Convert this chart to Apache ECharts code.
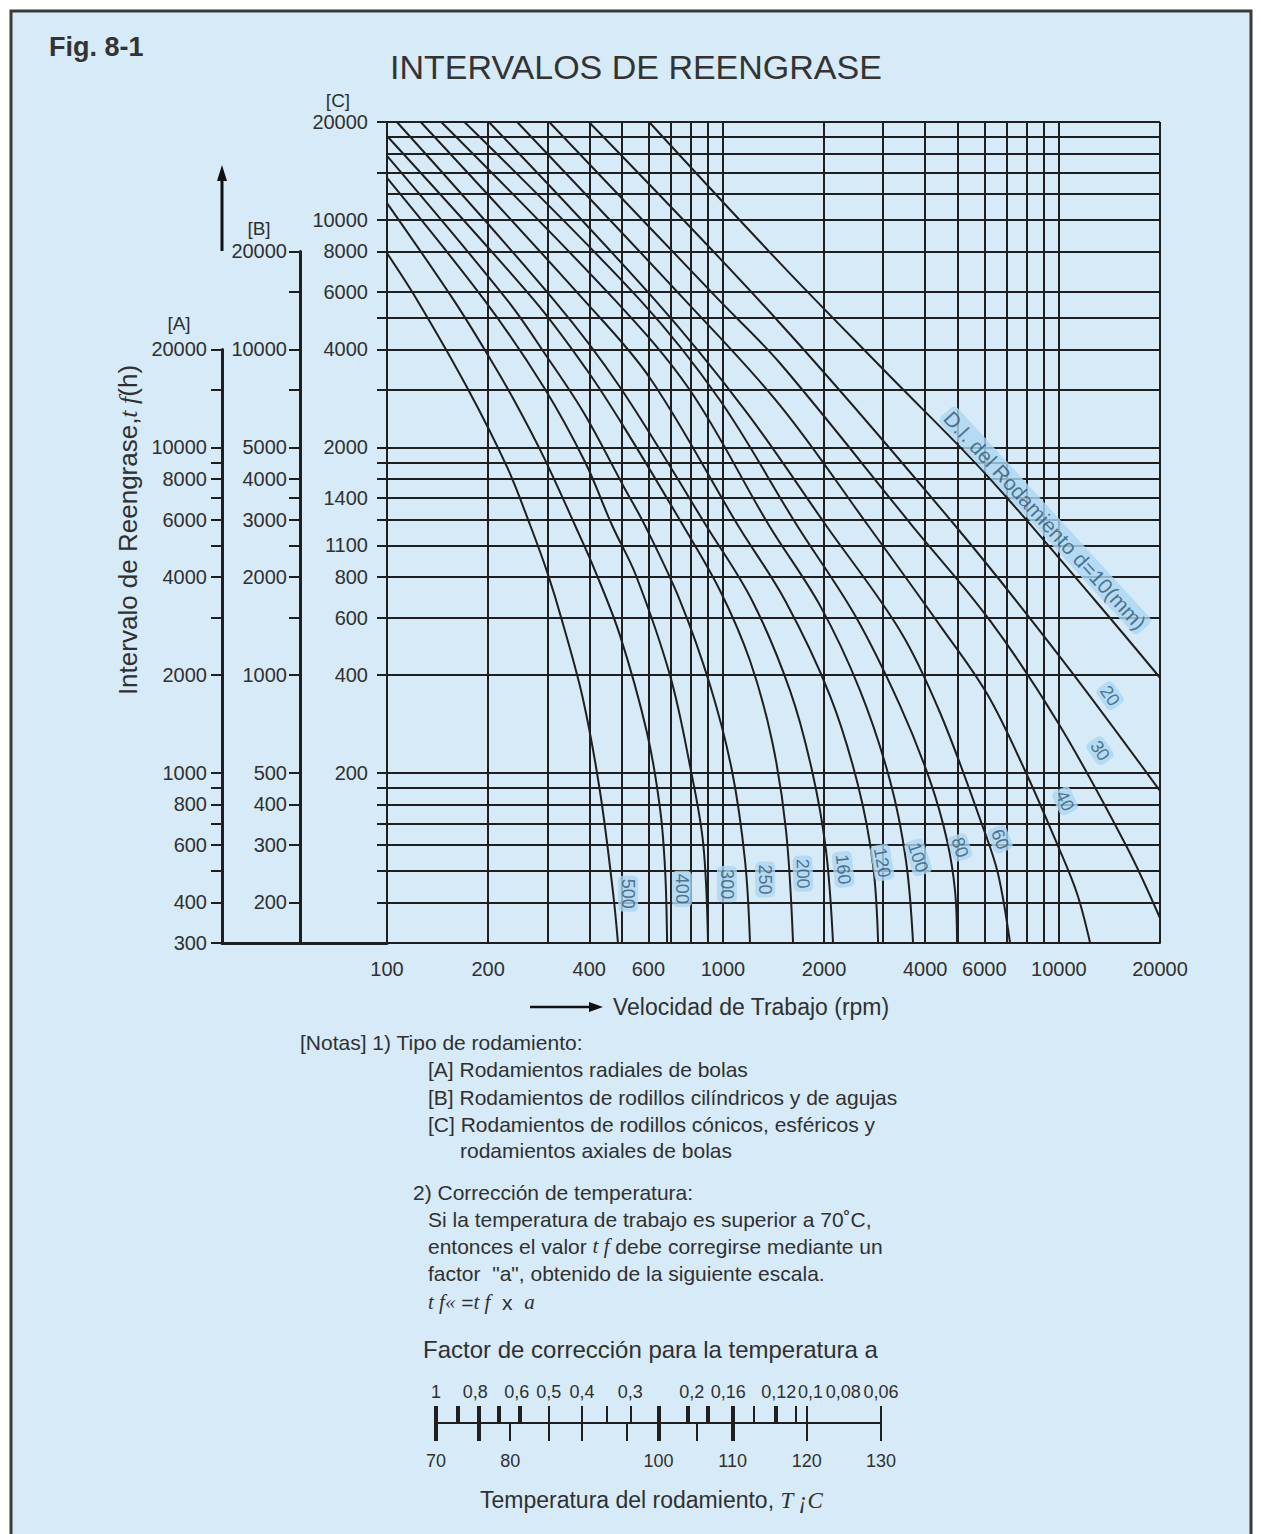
<!DOCTYPE html>
<html><head><meta charset="utf-8">
<script src="https://cdn.jsdelivr.net/npm/echarts@6/dist/echarts.min.js"></script>
<style>html,body{margin:0;padding:0;background:#fff}#c{width:1261px;height:1534px}</style>
</head><body><div id="c"></div>
<script>
// ---------- data ----------
const speedLabelVals = [100,200,400,600,1000,2000,4000,6000,10000,20000];
const speedGridVals = [100,200,300,400,500,600,700,800,900,1000,2000,3000,4000,5000,6000,7000,8000,9000,10000,20000];
const cGridVals = [20000,18000,16000,14000,12000,10000,8000,6000,5000,4000,3000,2000,1800,1600,1400,1200,1000,800,600,400,200,180,160,140,120,100,80];
const cTickVals = [20000,14000,10000,8000,6000,5000,4000,3000,2000,1800,1600,1400,1200,1000,800,600,400,200,180,160,140,120,100,80];
const cLabelVals = [20000,10000,8000,6000,4000,2000,1400,1000,800,600,400,200];
const cLabelText = ['20000','10000','8000','6000','4000','2000','1400','1100','800','600','400','200'];
const aTickVals = [20000,15000,10000,9000,8000,7000,6000,5000,4000,3000,2000,1000,900,800,700,600,500,400,300];
const aLabelVals = [20000,10000,8000,6000,4000,2000,1000,800,600,400,300];
const bTickVals = [20000,15000,10000,7500,5000,4000,3500,3000,2500,2000,1500,1000,500,400,300,200];
const bLabelVals = [20000,10000,5000,4000,3000,2000,1000,500,400,300,200];

const boreDiameters = [10,20,30,40,60,80,100,120,160,200,250,300,400,500];
const curveD10  = [[603,20000],[1479,7370],[3080,3380],[6110,1640],[12820,677],[20000,392]];
const curveD20  = [[399,20000],[1479,4816],[4909,1151],[10290,442],[20000,176]];
const curveD30  = [[304,20000],[974,5670],[1479,3628],[3656,1151],[6239,587],[9945,285],[15960,118],[20000,71.6]];
const curveD40  = [[244,20000],[771,5670],[1479,2694],[2704,1151],[4430,567],[6112,350],[7932,203],[9945,119],[11330,85],[12390,60]];
const curveD60  = [[201,20000],[628,5670],[1164,2601],[2028,1151],[3367,547],[4430,306],[5946,136],[6592,97.8],[7157,60]];
const curveD80  = [[170,20000],[567,5670],[980,2792],[1662,1151],[2474,609],[3367,322],[4137,189],[4647,124],[4909,86.7],[4977,60]];
const curveD100 = [[145,20000],[477,5670],[798,2996],[1372,1151],[1946,653],[2560,358],[3144,189],[3509,107],[3681,60]];
const curveD120 = [[126,20000],[386,5670],[607,3263],[1109,1151],[1531,677],[2084,345],[2525,183],[2799,104],[2897,60]];
const curveD160 = [[107,20000],[314,5670],[494,3062],[891,1151],[1221,677],[1584,358],[1842,203],[2028,115],[2127,60]];
const curveD200 = [[100,18120],[274,5670],[394,3452],[508,2305],[761,1151],[980,727],[1204,442],[1400,251],[1541,133],[1617,60]];
const curveD250 = [[100,15730],[228,5670],[300,3786],[386,2546],[508,1507],[586,1151],[745,677],[916,371],[1064,203],[1164,107],[1204,60]];
const curveD300 = [[100,13460],[195,5670],[293,3062],[389,1800],[468,1151],[551,808],[696,398],[798,210],[873,122],[903,60]];
const curveD400 = [[100,11270],[158,5670],[204,3707],[239,2792],[293,1864],[363,1151],[416,837],[494,528],[594,266],[650,155],[673,99.9],[682,60]];
const curveD500 = [[100,7907],[123,5670],[173,3062],[228,1736],[267,1151],[300,826],[332,587],[383,338],[431,174],[471,85.5],[487,60]];

const curveLabelText = ['D.I. del Rodamiento d=10(mm)','20','30','40','60','80','100','120','160','200','250','300','400','500'];
const curveLabelAt = [[9100,1193],[14200,345],[13260,234],[10430,164],[6680,125],[5080,118],[3810,110],[2980,106],[2280,101],[1730,98],[1335,94],[1028,91],[755,88],[522,85]];

const tempLabelVals = [70,80,100,110,120,130];
const tempThinBottom = [80,85.2,89.7,95.7,105.2,120,130];
const tempThickBottom = [70,75.7,100,110];
const tempThinTop = [85.2,89.7,93,96.2,112.8,118.5,120,130];
const tempThickTop = [70,72.9,75.7,78.4,81.3,100,104,106.7,110,115.8];
const factorText = ['1','0,8','0,6','0,5','0,4','0,3','0,2','0,16','0,12','0,1','0,08','0,06'];
const factorAt = [70,75.3,80.9,85.2,89.7,96.2,104.5,109.4,116.2,120.5,124.9,130];

// ---------- styling / layout ----------
const FONT = '"Liberation Sans", Arial, Helvetica, sans-serif';
const SERIF = '"Liberation Serif", "Times New Roman", serif';
const INK = '#1f1f1f';
const TXT = '#303030';
const MAIN = {left:387, top:122, width:773, height:821};
const pxPerDecade = MAIN.height / Math.log10(20000/60);
const bottomY = MAIN.top + MAIN.height;
const hA = pxPerDecade * Math.log10(20000/300);
const hB = pxPerDecade * Math.log10(20000/150);
const labelAngle = [-47.5,-55,-55,-65,-68,-72,-72,-80,-84,-88,-90,-90,-90,-90];

function pick(vals, texts, v){
  const i = vals.findIndex(c => Math.abs(c - v) / c < 1e-6);
  return i >= 0 ? texts[i] : '';
}
const axisTxt = {fontSize:20, color:TXT, fontFamily:FONT};

const chart = echarts.init(document.getElementById('c'), null, {renderer:'svg', width:1261, height:1534});

const curves = [curveD10,curveD20,curveD30,curveD40,curveD60,curveD80,curveD100,curveD120,curveD160,curveD200,curveD250,curveD300,curveD400,curveD500];

const series = [];
series.push({
  type:'line', xAxisIndex:0, yAxisIndex:0, data:[], silent:true, z:2,
  markLine:{
    silent:true, symbol:['none','none'], label:{show:false}, animation:false,
    lineStyle:{color:INK, width:2, type:'solid'},
    emphasis:{disabled:true},
    data:[...speedGridVals.map(v=>({xAxis:v})), ...cGridVals.map(v=>({yAxis:v}))]
  }
});
curves.forEach((pts,i)=>{
  series.push({
    type:'line', name:'d='+boreDiameters[i], xAxisIndex:0, yAxisIndex:0, data:pts,
    symbol:'none', showSymbol:false, smooth:0.35, silent:true, z:3,
    lineStyle:{color:INK, width:2}
  });
});
series.push({
  type:'scatter', xAxisIndex:0, yAxisIndex:0, silent:true, z:6,
  symbol:'circle', symbolSize:1, itemStyle:{color:'rgba(0,0,0,0)'},
  data: curveLabelAt.map((p,i)=>({value:p, label:{rotate:labelAngle[i], fontSize: i===0 ? 21 : 18}})),
  label:{show:true, position:'inside', formatter:p=>curveLabelText[p.dataIndex],
    color:'#34566f', fontFamily:FONT, backgroundColor:'#acd7f2', borderRadius:5, padding:[1,3]}
});
series.push({type:'scatter', xAxisIndex:3, yAxisIndex:3, data:[], silent:true});

const tempBase = extra => Object.assign({
  type:'value', gridIndex:3, min:70, max:130, position:'bottom',
  splitLine:{show:false}, axisLine:{show:false}, axisTick:{show:false}, axisLabel:{show:false}
}, extra);

const option = {
  animation:false,
  backgroundColor:'#ffffff',
  textStyle:{fontFamily:FONT},
  title:{text:'INTERVALOS DE REENGRASE', left:385, top:45,
    textStyle:{fontSize:34, fontWeight:'normal', color:'#333', fontFamily:FONT}},
  grid:[
    {left:MAIN.left, top:MAIN.top, width:MAIN.width, height:MAIN.height, outerBoundsMode:'none'},
    {left:222, top:bottomY - hA, width:MAIN.left-222, height:hA, outerBoundsMode:'none'},
    {left:300, top:bottomY - hB, width:MAIN.left-300, height:hB, outerBoundsMode:'none'},
    {left:436, top:1380, width:445, height:43, outerBoundsMode:'none'}
  ],
  xAxis:[
    {type:'log', logBase:10, gridIndex:0, min:100, max:20000, position:'bottom',
     axisLine:{show:true, lineStyle:{color:INK, width:2}}, axisTick:{show:false},
     splitLine:{show:false}, minorTick:{show:false},
     axisLabel:Object.assign({customValues:speedLabelVals, margin:16, formatter:v=>String(Math.round(v))}, axisTxt)},
    {type:'value', gridIndex:1, min:0, max:1, position:'bottom',
     axisLine:{show:true, lineStyle:{color:INK, width:3}}, axisTick:{show:false}, axisLabel:{show:false}, splitLine:{show:false}},
    {type:'value', gridIndex:2, min:0, max:1, show:false},
    tempBase({axisLine:{show:true, lineStyle:{color:INK, width:2}},
      axisTick:{show:true, customValues:tempThinBottom, length:18, inside:false, lineStyle:{color:INK, width:2}},
      axisLabel:{show:true, customValues:tempLabelVals, margin:29, fontSize:18, color:TXT, fontFamily:FONT, formatter:v=>String(Math.round(v))}}),
    tempBase({axisTick:{show:true, customValues:tempThickBottom, length:18, inside:false, lineStyle:{color:INK, width:4}}}),
    tempBase({axisTick:{show:true, customValues:tempThinTop, length:17, inside:true, lineStyle:{color:INK, width:2}},
      axisLabel:{show:true, inside:true, customValues:factorAt, margin:22, fontSize:18, color:TXT, fontFamily:FONT,
        formatter:v=>pick(factorAt, factorText, v)}}),
    tempBase({axisTick:{show:true, customValues:tempThickTop, length:17, inside:true, lineStyle:{color:INK, width:4}}})
  ],
  yAxis:[
    {type:'log', logBase:10, gridIndex:0, min:60, max:20000, position:'left',
     axisLine:{show:true, lineStyle:{color:INK, width:2}},
     axisTick:{show:true, customValues:cTickVals, length:10, lineStyle:{color:INK, width:2}},
     splitLine:{show:false}, minorTick:{show:false},
     axisLabel:Object.assign({customValues:cLabelVals, margin:19, formatter:v=>pick(cLabelVals, cLabelText, v)}, axisTxt)},
    {type:'log', logBase:10, gridIndex:1, min:300, max:20000, position:'left',
     axisLine:{show:true, lineStyle:{color:INK, width:3}},
     axisTick:{show:true, customValues:aTickVals, length:11, lineStyle:{color:INK, width:2}},
     splitLine:{show:false}, minorTick:{show:false},
     axisLabel:Object.assign({customValues:aLabelVals, margin:15, formatter:v=>String(Math.round(v))}, axisTxt)},
    {type:'log', logBase:10, gridIndex:2, min:150, max:20000, position:'left',
     axisLine:{show:true, lineStyle:{color:INK, width:3}},
     axisTick:{show:true, customValues:bTickVals, length:11, lineStyle:{color:INK, width:2}},
     splitLine:{show:false}, minorTick:{show:false},
     axisLabel:Object.assign({customValues:bLabelVals, margin:13, formatter:v=>String(Math.round(v))}, axisTxt)},
    {type:'value', gridIndex:3, show:false}
  ],
  series: series,
  graphic:[
    {type:'rect', z:-100, silent:true, shape:{x:11, y:11, width:1240, height:1545},
     style:{fill:'#d6eaf8', stroke:'#3a3a3a', lineWidth:3}},
    {type:'text', x:49, y:47, silent:true, style:{text:'Fig. 8-1', font:'bold 27px '+FONT, fill:'#333', verticalAlign:'middle'}},
    {type:'text', x:338, y:100, silent:true, style:{text:'[C]', font:'19px '+FONT, fill:TXT, align:'center', verticalAlign:'middle'}},
    {type:'text', x:259, y:228, silent:true, style:{text:'[B]', font:'19px '+FONT, fill:TXT, align:'center', verticalAlign:'middle'}},
    {type:'text', x:179, y:323, silent:true, style:{text:'[A]', font:'19px '+FONT, fill:TXT, align:'center', verticalAlign:'middle'}},
    {type:'text', x:128, y:530, rotation:Math.PI/2, silent:true,
     style:{text:'Intervalo de Reengrase,{i|t f}(h)', font:'26px '+FONT, fill:TXT, align:'center', verticalAlign:'middle',
       rich:{i:{font:'italic 26px '+SERIF, fill:TXT}}}},
    {type:'line', silent:true, shape:{x1:222, y1:251, x2:222, y2:178}, style:{stroke:'#111', lineWidth:3}},
    {type:'polygon', silent:true, shape:{points:[[222,165],[217,181],[227,181]]}, style:{fill:'#111'}},
    {type:'line', silent:true, shape:{x1:530, y1:1007, x2:592, y2:1007}, style:{stroke:'#111', lineWidth:2.5}},
    {type:'polygon', silent:true, shape:{points:[[603,1007],[589,1002],[589,1012]]}, style:{fill:'#111'}},
    {type:'text', x:613, y:1007, silent:true, style:{text:'Velocidad de Trabajo (rpm)', font:'23px '+FONT, fill:TXT, verticalAlign:'middle'}},
    {type:'text', x:300, y:1042, silent:true, style:{text:'[Notas] 1) Tipo de rodamiento:', font:'21px '+FONT, fill:TXT, verticalAlign:'middle'}},
    {type:'text', x:428, y:1069, silent:true, style:{text:'[A] Rodamientos radiales de bolas', font:'21px '+FONT, fill:TXT, verticalAlign:'middle'}},
    {type:'text', x:428, y:1097, silent:true, style:{text:'[B] Rodamientos de rodillos cilíndricos y de agujas', font:'21px '+FONT, fill:TXT, verticalAlign:'middle'}},
    {type:'text', x:428, y:1124, silent:true, style:{text:'[C] Rodamientos de rodillos cónicos, esféricos y', font:'21px '+FONT, fill:TXT, verticalAlign:'middle'}},
    {type:'text', x:460, y:1150, silent:true, style:{text:'rodamientos axiales de bolas', font:'21px '+FONT, fill:TXT, verticalAlign:'middle'}},
    {type:'text', x:413, y:1192, silent:true, style:{text:'2) Corrección de temperatura:', font:'21px '+FONT, fill:TXT, verticalAlign:'middle'}},
    {type:'text', x:428, y:1219, silent:true, style:{text:'Si la temperatura de trabajo es superior a 70˚C,', font:'21px '+FONT, fill:TXT, verticalAlign:'middle'}},
    {type:'text', x:428, y:1246, silent:true, style:{text:'entonces el valor {i|t f} debe corregirse mediante un', font:'21px '+FONT, fill:TXT, verticalAlign:'middle',
       rich:{i:{font:'italic 21px '+SERIF, fill:TXT}}}},
    {type:'text', x:428, y:1273, silent:true, style:{text:'factor  "a", obtenido de la siguiente escala.', font:'21px '+FONT, fill:TXT, verticalAlign:'middle'}},
    {type:'text', x:428, y:1302, silent:true, style:{text:'{i|t f«} ={i|t f}  x  {i|a}', font:'21px '+FONT, fill:TXT, verticalAlign:'middle',
       rich:{i:{font:'italic 21px '+SERIF, fill:TXT}}}},
    {type:'text', x:423, y:1349, silent:true, style:{text:'Factor de corrección para la temperatura a', font:'24px '+FONT, fill:TXT, verticalAlign:'middle'}},
    {type:'text', x:480, y:1500, silent:true, style:{text:'Temperatura del rodamiento, {i|T ¡C}', font:'23px '+FONT, fill:TXT, verticalAlign:'middle',
       rich:{i:{font:'italic 23px '+SERIF, fill:TXT}}}}
  ]
};
chart.setOption(option);
</script>
</body></html>
